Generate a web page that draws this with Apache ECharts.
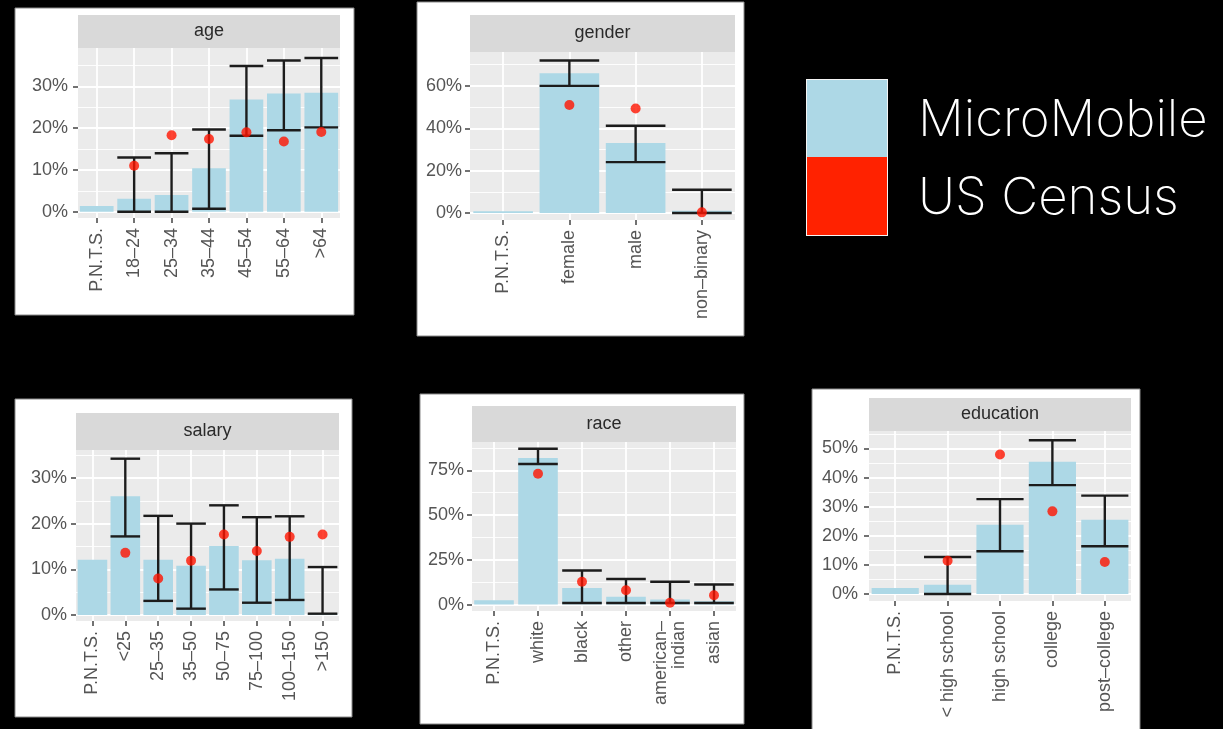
<!DOCTYPE html>
<html>
<head>
<meta charset="utf-8">
<script src="https://cdn.jsdelivr.net/npm/echarts@6/dist/echarts.min.js"></script>
<style>
  html, body { margin: 0; padding: 0; background: #000; }
  #chart { width: 1223px; height: 729px; }
</style>
</head>
<body>
<div id="chart"></div>
<script>
// Share of MicroMobile respondents per group (bars, with interval bounds)
// compared with the US Census share (red dots). All values in percent.

// ---- age ----
const ageCats    = ['P.N.T.S.', '18–24', '25–34', '35–44', '45–54', '55–64', '>64'];
const ageSample  = [1.4, 3.1, 4.0, 10.4, 26.9, 28.3, 28.5];
const ageLow     = [null, 0, 0, 0.7, 18.2, 19.5, 20.2];
const ageHigh    = [null, 13.0, 14.0, 19.7, 34.9, 36.2, 36.8];
const ageCensus  = [null, 11.0, 18.3, 17.4, 19.0, 16.8, 19.1];
const ageTicks   = [0, 10, 20, 30];
const ageMinor   = [5, 15, 25, 35];

// ---- gender ----
const genderCats   = ['P.N.T.S.', 'female', 'male', 'non–binary'];
const genderSample = [0.8, 66.0, 33.0, 1.1];
const genderLow    = [null, 60.0, 24.0, 0];
const genderHigh   = [null, 72.0, 41.2, 11.0];
const genderCensus = [null, 51.0, 49.3, 0.3];
const genderTicks  = [0, 20, 40, 60];
const genderMinor  = [10, 30, 50, 70];

// ---- salary ----
const salaryCats   = ['P.N.T.S.', '<25', '25–35', '35–50', '50–75', '75–100', '100–150', '>150'];
const salarySample = [12.1, 26.0, 12.1, 10.8, 15.1, 12.0, 12.3, 0.4];
const salaryLow    = [null, 17.2, 3.1, 1.4, 5.6, 2.7, 3.3, 0.3];
const salaryHigh   = [null, 34.2, 21.7, 20.0, 24.0, 21.4, 21.6, 10.5];
const salaryCensus = [null, 13.6, 8.0, 11.9, 17.6, 14.0, 17.1, 17.6];
const salaryTicks  = [0, 10, 20, 30];
const salaryMinor  = [5, 15, 25, 35];

// ---- race ----
const raceCats   = ['P.N.T.S.', 'white', 'black', 'other', 'american–\nindian', 'asian'];
const raceSample = [2.4, 81.9, 9.3, 4.3, 2.8, 1.9];
const raceLow    = [null, 78.5, 0.9, 0.9, 0.9, 0.9];
const raceHigh   = [null, 87.0, 19.0, 14.3, 12.7, 11.2];
const raceCensus = [null, 73.1, 12.7, 8.0, 1.0, 5.2];
const raceTicks  = [0, 25, 50, 75];
const raceMinor  = [12.5, 37.5, 62.5, 87.5];

// ---- education ----
const eduCats   = ['P.N.T.S.', '< high school', 'high school', 'college', 'post–college'];
const eduSample = [2.1, 3.2, 23.8, 45.4, 25.5];
const eduLow    = [null, 0, 14.7, 37.4, 16.4];
const eduHigh   = [null, 12.7, 32.6, 52.8, 33.8];
const eduCensus = [null, 11.4, 47.9, 28.4, 11.0];
const eduTicks  = [0, 10, 20, 30, 40, 50];
const eduMinor  = [5, 15, 25, 35, 45, 55];

// ---- legend ----
const legendNames = ['MicroMobile', 'US Census'];

// Colours
const BAR_COLOR = '#ADD8E6';
const DOT_COLOR = '#FF1400';
const PANEL_BG = '#EBEBEB';
const STRIP_BG = '#D9D9D9';
const TEXT_COLOR = '#555555';
const FONT = '"Liberation Sans", Arial, Helvetica, sans-serif';
const FONT_SIZE = 18;

// Facet layout: card (white backdrop), strip header, plotting panel
const panels = [
  { title: 'age', cats: ageCats, sample: ageSample, low: ageLow, high: ageHigh, census: ageCensus,
    ticks: ageTicks, minor: ageMinor, min: -1.5, max: 39.2,
    card: [15, 8, 339, 307], stripTop: 15, left: 78, top: 48, width: 262, height: 170, labelMargin: 10 },
  { title: 'gender', cats: genderCats, sample: genderSample, low: genderLow, high: genderHigh, census: genderCensus,
    ticks: genderTicks, minor: genderMinor, min: -3.3, max: 76,
    card: [417, 2, 327, 334], stripTop: 15, left: 470, top: 52, width: 265, height: 168, labelMargin: 8 },
  { title: 'salary', cats: salaryCats, sample: salarySample, low: salaryLow, high: salaryHigh, census: salaryCensus,
    ticks: salaryTicks, minor: salaryMinor, min: -1.3, max: 36.1,
    card: [15, 399, 337, 318], stripTop: 413, left: 76, top: 450, width: 263, height: 171, labelMargin: 9 },
  { title: 'race', cats: raceCats, sample: raceSample, low: raceLow, high: raceHigh, census: raceCensus,
    ticks: raceTicks, minor: raceMinor, min: -3.6, max: 90.8,
    card: [420, 394, 324, 330], stripTop: 406, left: 472, top: 442, width: 264, height: 169, labelMargin: 8 },
  { title: 'education', cats: eduCats, sample: eduSample, low: eduLow, high: eduHigh, census: eduCensus,
    ticks: eduTicks, minor: eduMinor, min: -2.4, max: 56,
    card: [812, 389, 328, 345], stripTop: 398, left: 869, top: 431, width: 262, height: 170, labelMargin: 11 }
];

const grid = [], xAxis = [], yAxis = [], series = [], graphic = [];

function errorBarItem(params, api) {
  const x = api.value(0);
  const pLo = api.coord([x, api.value(1)]);
  const pHi = api.coord([x, api.value(2)]);
  const half = api.size([1, 0])[0] * 0.45;
  const style = { stroke: '#1c1c1c', lineWidth: 2.4 };
  return {
    type: 'group',
    children: [
      { type: 'line', shape: { x1: pLo[0], y1: pLo[1], x2: pHi[0], y2: pHi[1] }, style },
      { type: 'line', shape: { x1: pLo[0] - half, y1: pLo[1], x2: pLo[0] + half, y2: pLo[1] }, style },
      { type: 'line', shape: { x1: pHi[0] - half, y1: pHi[1], x2: pHi[0] + half, y2: pHi[1] }, style }
    ]
  };
}

panels.forEach((p, g) => {
  // white card behind each facet
  graphic.push({
    type: 'rect', z: -10,
    shape: { x: p.card[0], y: p.card[1], width: p.card[2], height: p.card[3] },
    style: { fill: '#ffffff', stroke: '#8a8a8a', lineWidth: 1 }
  });
  // strip header
  graphic.push({
    type: 'rect',
    shape: { x: p.left, y: p.stripTop, width: p.width, height: p.top - p.stripTop },
    style: { fill: STRIP_BG }
  });
  graphic.push({
    type: 'text',
    x: p.left + p.width / 2, y: (p.stripTop + p.top) / 2,
    style: { text: p.title, fill: '#2a2a2a', font: FONT_SIZE + 'px ' + FONT, align: 'center', verticalAlign: 'middle' }
  });

  grid.push({ left: p.left, top: p.top, width: p.width, height: p.height,
              show: true, backgroundColor: PANEL_BG, borderWidth: 0 });

  const n = p.cats.length;
  // category axis carrying bars and labels
  xAxis.push({
    type: 'category', gridIndex: g, data: p.cats, position: 'bottom',
    axisLine: { show: false, onZero: false },
    axisTick: { show: true, alignWithLabel: true, length: 5, lineStyle: { color: '#444', width: 1.5 } },
    axisLabel: { interval: 0, rotate: 90, color: TEXT_COLOR, fontSize: FONT_SIZE, fontFamily: FONT,
                 margin: 10, lineHeight: FONT_SIZE },
    splitLine: { show: false }
  });
  // helper axis for vertical gridlines through category centres
  xAxis.push({
    type: 'value', gridIndex: g, position: 'top', min: -0.5, max: n - 0.5,
    axisLine: { show: false, onZero: false },
    axisTick: { show: false, customValues: p.cats.map((c, i) => i) },
    axisLabel: { show: false },
    splitLine: { show: true, lineStyle: { color: '#ffffff', width: 1.8 } }
  });
  // main value axis
  yAxis.push({
    type: 'value', gridIndex: g, position: 'left', min: p.min, max: p.max,
    axisLine: { show: false, onZero: false },
    axisTick: { show: true, customValues: p.ticks, length: 5, lineStyle: { color: '#444', width: 1.5 } },
    axisLabel: { customValues: p.ticks, formatter: v => v + '%', color: TEXT_COLOR, fontSize: FONT_SIZE,
                 fontFamily: FONT, margin: p.labelMargin },
    splitLine: { show: true, lineStyle: { color: '#ffffff', width: 1.8 } }
  });
  // minor gridlines
  yAxis.push({
    type: 'value', gridIndex: g, position: 'left', min: p.min, max: p.max,
    axisLine: { show: false, onZero: false },
    axisTick: { show: false, customValues: p.minor },
    axisLabel: { show: false },
    splitLine: { show: true, lineStyle: { color: '#ffffff', width: 0.9 } }
  });

  const xi = 2 * g, yi = 2 * g;
  series.push({
    type: 'bar', name: legendNames[0], xAxisIndex: xi, yAxisIndex: yi,
    data: p.sample, barWidth: '90%', itemStyle: { color: BAR_COLOR }, z: 2,
    silent: true, animation: false
  });
  const errData = [];
  p.low.forEach((lo, i) => { if (lo !== null && p.high[i] !== null) errData.push([i, lo, p.high[i]]); });
  series.push({
    type: 'custom', xAxisIndex: xi, yAxisIndex: yi, renderItem: errorBarItem,
    data: errData, encode: { x: 0, y: [1, 2] }, z: 3, silent: true, animation: false
  });
  const dots = [];
  p.census.forEach((v, i) => { if (v !== null) dots.push([i, v]); });
  series.push({
    type: 'scatter', name: legendNames[1], xAxisIndex: xi, yAxisIndex: yi,
    data: dots, symbolSize: 10, itemStyle: { color: DOT_COLOR }, z: 4,
    silent: true, animation: false
  });
});

// legend block: two colour swatches with labels
const LEGEND_FONT = '200 51px Inter, Lato, "Open Sans", sans-serif';
graphic.push({
  type: 'rect', shape: { x: 806, y: 79, width: 82, height: 157 },
  style: { fill: '#f4f4f4' }
});
graphic.push({
  type: 'rect', shape: { x: 807, y: 80, width: 80, height: 77 },
  style: { fill: BAR_COLOR }
});
graphic.push({
  type: 'rect', shape: { x: 807, y: 157, width: 80, height: 78 },
  style: { fill: '#FF2200' }
});
graphic.push({
  type: 'text', x: 918, y: 121,
  style: { text: legendNames[0], fill: '#ffffff', font: LEGEND_FONT, align: 'left', verticalAlign: 'middle' }
});
graphic.push({
  type: 'text', x: 918, y: 199,
  style: { text: legendNames[1], fill: '#ffffff', font: LEGEND_FONT, align: 'left', verticalAlign: 'middle' }
});

const chart = echarts.init(document.getElementById('chart'), null, { renderer: 'canvas' });
chart.setOption({
  backgroundColor: '#000000',
  animation: false,
  grid, xAxis, yAxis, series, graphic
});
</script>
</body>
</html>
